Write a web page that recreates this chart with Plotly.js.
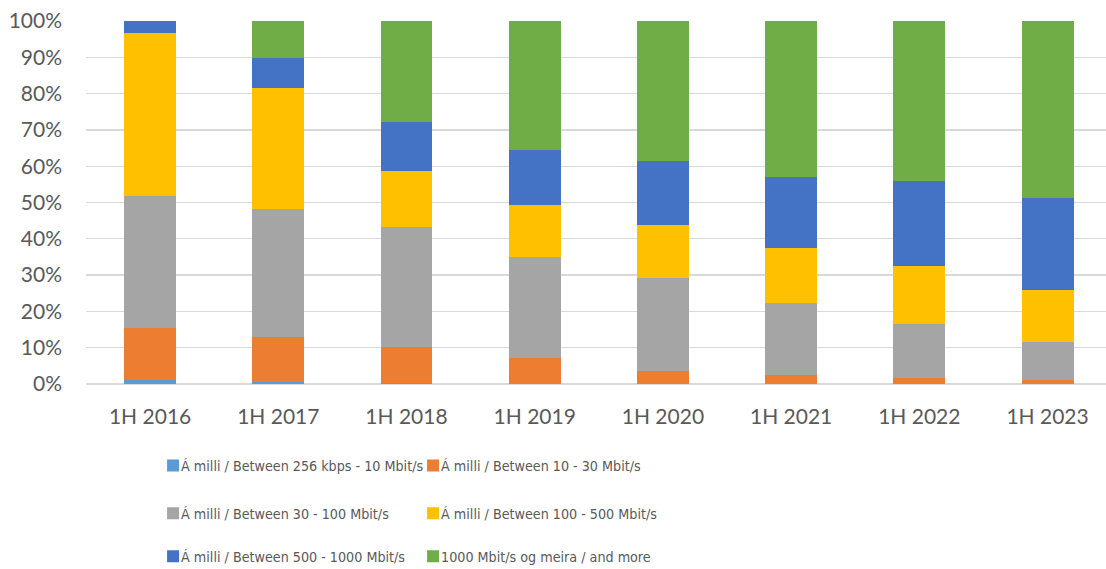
<!DOCTYPE html>
<html>
<head>
<meta charset="utf-8">
<script src="https://cdn.plot.ly/plotly-3.0.1.min.js"></script>
<style>html,body{margin:0;padding:0;background:#fff;}#chart{width:1106px;height:569px;}</style>
</head>
<body>
<div id="chart"></div>
<script>
const categories = ["1H 2016","1H 2017","1H 2018","1H 2019","1H 2020","1H 2021","1H 2022","1H 2023"];
const seriesNames = [
  "Á milli / Between 256 kbps - 10 Mbit/s",
  "Á milli / Between 10 - 30 Mbit/s",
  "Á milli / Between 30 - 100 Mbit/s",
  "Á milli / Between 100 - 500 Mbit/s",
  "Á milli / Between 500 - 1000 Mbit/s",
  "1000 Mbit/s og meira / and more"
];
const s256_10   = [1.2, 0.6, 0.2, 0.1, 0.1, 0.1, 0.1, 0.1];
const s10_30    = [14.2, 12.3, 10.1, 7.1, 3.6, 2.4, 1.5, 1.1];
const s30_100   = [36.4, 35.3, 32.9, 27.9, 25.5, 19.8, 14.9, 10.4];
const s100_500  = [45.0, 33.4, 15.5, 14.3, 14.6, 15.3, 16.0, 14.2];
const s500_1000 = [3.2, 8.1, 13.4, 15.1, 17.6, 19.4, 23.4, 25.4];
const s1000     = [0.0, 10.3, 27.9, 35.5, 38.6, 43.0, 44.1, 48.8];
const colors = ["#5B9BD5","#ED7D31","#A5A5A5","#FFC000","#4472C4","#70AD47"];
const allSeries = [s256_10, s10_30, s30_100, s100_500, s500_1000, s1000];
const legendIds = ["legend","legend","legend2","legend2","legend3","legend3"];

const traces = allSeries.map((vals, i) => ({
  type: "bar",
  x: categories,
  y: vals.map(v => v / 100),
  name: seriesNames[i],
  marker: {color: colors[i], line: {width: 0}},
  legend: legendIds[i],
  hoverinfo: "skip"
}));

const legendFont = {family: "'DejaVu Sans Condensed', Lato, sans-serif", size: 14.2, color: "#595959"};
const legBase = {
  orientation: "h", xanchor: "left", yanchor: "middle", x: 0.054,
  font: legendFont, entrywidth: 215, bgcolor: "rgba(0,0,0,0)",
  itemclick: false, itemdoubleclick: false, traceorder: "normal"
};
const tickFont = {family: "Lato, sans-serif", size: 21, color: "#595959"};

const layout = {
  width: 1106, height: 569,
  margin: {l: 86, r: 0, t: 21, b: 185, pad: 0, autoexpand: false},
  paper_bgcolor: "#ffffff", plot_bgcolor: "#ffffff",
  barmode: "stack",
  bargap: 0.595,
  font: {family: "Lato, sans-serif", size: 18, color: "#595959"},
  showlegend: true,
  xaxis: {
    type: "category",
    range: [-0.5, 7.456],
    showgrid: false, zeroline: false,
    showline: false,
    ticks: "", ticklen: 0,
    ticklabelstandoff: 18,
    tickfont: tickFont,
    automargin: false
  },
  yaxis: {
    range: [0, 1],
    tickvals: [0,0.1,0.2,0.3,0.4,0.5,0.6,0.7,0.8,0.9,1],
    tickformat: ".0%",
    showgrid: true, gridcolor: "#D9D9D9", gridwidth: 1.3,
    zeroline: true, zerolinecolor: "#D9D9D9", zerolinewidth: 1.3,
    showline: false, ticks: "",
    ticklabelstandoff: 23,
    tickfont: tickFont,
    automargin: false
  },
  legend: Object.assign({}, legBase, {y: -0.225}),
  legend2: Object.assign({}, legBase, {y: -0.357}),
  legend3: Object.assign({}, legBase, {y: -0.475})
};

const gdEl = document.getElementById("chart");
function nudgeLegendSymbols() {
  // bring the colour squares close to their labels, as in the original
  gdEl.querySelectorAll(".legendsymbols").forEach(s => {
    if (!s.hasAttribute("data-orig")) s.setAttribute("data-orig", s.getAttribute("transform") || "");
    s.setAttribute("transform", s.getAttribute("data-orig") + " translate(12,0)");
  });
}
Plotly.newPlot(gdEl, traces, layout, {displayModeBar: false, staticPlot: true}).then(() => {
  nudgeLegendSymbols();
  [0, 100, 500].forEach(ms => setTimeout(nudgeLegendSymbols, ms));
});
</script>
</body>
</html>
